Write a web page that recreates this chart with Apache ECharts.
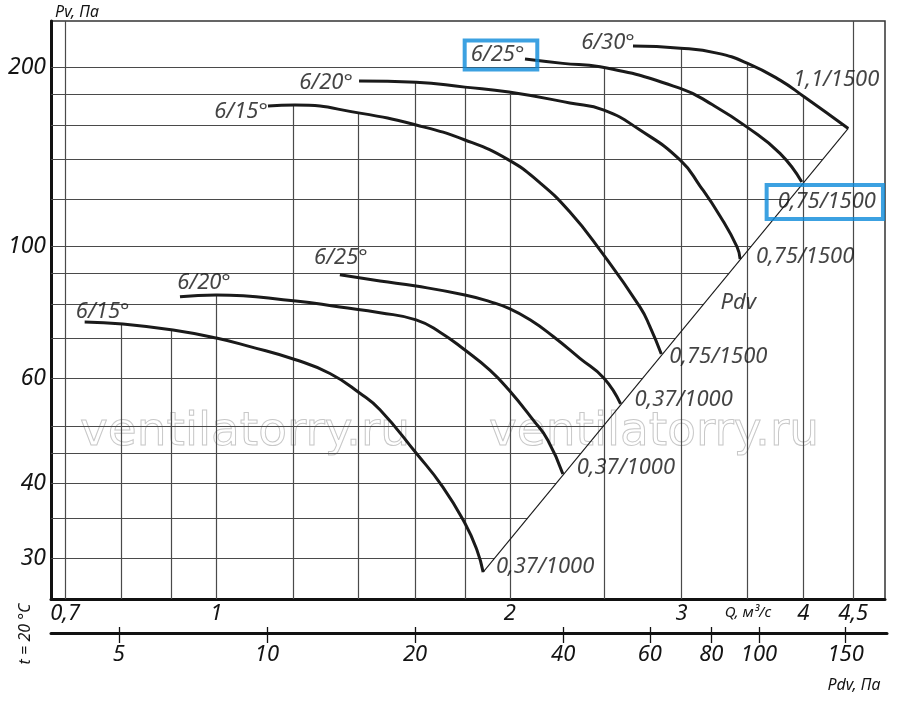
<!DOCTYPE html>
<html>
<head>
<meta charset="utf-8">
<title>Pv-Q</title>
<script src="https://cdn.jsdelivr.net/npm/echarts@6/dist/echarts.min.js"></script>
<style>
html, body { margin: 0; padding: 0; background: #fff; }
#main { width: 900px; height: 703px; }
</style>
</head>
<body>
<div id="main"></div>
<script>
// curves: [Q, м³/с ; Pv, Па]
var c1000_15 = [[0.733, 74.7], [0.802, 74.1], [0.903, 72.4], [1.0, 70.2], [1.083, 67.9], [1.204, 64.6], [1.308, 61.2], [1.404, 56.7], [1.472, 53.2], [1.603, 45.0], [1.707, 39.5], [1.799, 34.3], [1.851, 30.9], [1.878, 28.4]];
var c1000_20 = [[0.918, 82.3], [1.0, 82.9], [1.207, 81.0], [1.339, 79.1], [1.472, 77.4], [1.603, 75.3], [1.696, 71.8], [1.799, 67.0], [1.908, 62.0], [1.996, 57.4], [2.114, 51.1], [2.188, 47.3], [2.267, 41.5]];
var c1000_25 = [[1.339, 89.6], [1.472, 87.5], [1.603, 85.8], [1.799, 82.9], [1.908, 80.8], [1.996, 78.7], [2.098, 75.3], [2.216, 70.6], [2.360, 64.9], [2.498, 60.1], [2.598, 54.4]];
var c1500_15 = [[1.130, 172.0], [1.204, 172.7], [1.404, 167.4], [1.603, 159.9], [1.799, 150.9], [1.996, 139.6], [2.148, 127.8], [2.305, 114.2], [2.475, 98.6], [2.720, 79.1], [2.785, 73.3], [2.860, 66.0]];
var c1500_20 = [[1.401, 189.5], [1.603, 188.7], [1.799, 185.1], [1.996, 181.6], [2.305, 174.1], [2.498, 169.4], [2.720, 156.8], [2.991, 139.6], [3.134, 126.3], [3.285, 112.5], [3.420, 99.8], [3.445, 95.2]];
var c1500_25 = [[2.073, 206.3], [2.267, 202.9], [2.475, 200.2], [2.991, 184.2], [3.231, 172.7], [3.502, 158.6], [3.785, 143.3], [3.985, 128.3]];
var c1500_30 = [[2.675, 216.9], [2.991, 215.2], [3.262, 211.1], [3.502, 203.1], [3.785, 190.2], [4.007, 178.3], [4.447, 157.8]];
var pdvLine = [[1.878, 28.4], [4.447, 157.8]];

var startLabels = ['6/15°', '6/20°', '6/25°', '6/15°', '6/20°', '6/25°', '6/30°'];
var endLabels = ['0,37/1000', '0,37/1000', '0,37/1000', '0,75/1500', '0,75/1500', '0,75/1500', '1,1/1500'];

// axes
var qGrid = [0.7, 0.8, 0.9, 1, 1.2, 1.4, 1.6, 1.8, 2, 2.5, 3, 3.5, 4, 4.5];
var qTicks = [0.7, 1, 2, 3, 4, 4.5];
var pvGrid = [30, 35, 40, 45, 50, 60, 70, 80, 90, 100, 120, 140, 160, 180, 200];
var pvTicks = [30, 40, 60, 100, 200];
var pdvTicks = [5, 10, 20, 40, 60, 80, 100, 150];

var qMin = 0.677, qMax = 4.85, pvMin = 25.6, pvMax = 239;
var pdvMin = 3.64, pdvMax = 182;

var curves = [c1000_15, c1000_20, c1000_25, c1500_15, c1500_20, c1500_25, c1500_30];

// log-log interpolation along a polyline, column i -> column j
function logInterp(pts, i, j, v) {
  for (var k = 0; k < pts.length - 1; k++) {
    var a = pts[k], b = pts[k + 1];
    if (a[i] !== b[i] && (v - a[i]) * (v - b[i]) <= 0) {
      var t = Math.log(v / a[i]) / Math.log(b[i] / a[i]);
      return a[j] * Math.pow(b[j] / a[j], t);
    }
  }
  return null;
}

// grid lines stop at the top curve and at the Pdv line, as on the drawing
var gridLines = [];
qGrid.forEach(function (q) {
  var hits = curves.map(function (c) { return logInterp(c, 0, 1, q); })
    .filter(function (v) { return v !== null; });
  var top = hits.length ? Math.max.apply(null, hits) : pvMax;
  gridLines.push({ coords: [[q, pvMin], [q, top]] });
});
pvGrid.forEach(function (pv) {
  var end = logInterp(pdvLine, 1, 0, pv);
  if (end === null) end = logInterp(c1500_30, 1, 0, pv);
  if (end === null) end = qMax;
  gridLines.push({ coords: [[qMin, pv], [end, pv]] });
});

var txt = {
  color: '#141414',
  fontSize: 22,
  fontStyle: 'italic',
  fontFamily: '"Noto Sans", sans-serif',
  lineHeight: 22
};
var blue = '#0b8ad9';

var startOffsets = [[18, -10], [24, -14], [1, -17], [-27, 6], [-33, 2], [-24, -4], [-25, -3]];
var endOffsets = [[62, -5], [63, -6], [63, -4], [57, 3], [65, -2], [23, 20], [-12, -49]];

var labelData = [];
curves.forEach(function (c, i) {
  var s = { value: c[0], label: Object.assign({ formatter: startLabels[i], offset: startOffsets[i] }, txt) };
  var e = { value: c[c.length - 1], label: Object.assign({ formatter: endLabels[i], offset: endOffsets[i] }, txt) };
  if (i === 5) {
    Object.assign(s.label, { borderColor: blue, borderWidth: 4, padding: [3, 13, 4, 6] });
    Object.assign(e.label, { borderColor: blue, borderWidth: 4, padding: [8, 7, 4, 11] });
  }
  labelData.push(s, e);
});
labelData.push({ value: [3.43, 80.4], label: Object.assign({ formatter: 'Pdv' }, txt) });

var curveSeries = curves.map(function (c, i) {
  return {
    name: startLabels[i] + ' ' + endLabels[i],
    type: 'line',
    data: c,
    smooth: 0.5,
    symbol: 'none',
    lineStyle: { color: '#1a1a1a', width: 3 },
    silent: true,
    z: 3
  };
});

var chart = echarts.init(document.getElementById('main'));

function comma(v) {
  return String(+v.toFixed(2)).replace('.', ',');
}

var wmStyle = { text: 'ventilatorry.ru', font: '47px "DejaVu Sans"', fill: 'none', stroke: '#c8c8c8', lineWidth: 1, align: 'center', verticalAlign: 'middle' };

var option = {
  backgroundColor: '#ffffff',
  animation: false,
  grid: [
    { left: 51, right: 15, top: 21, bottom: 104, show: true, borderColor: '#333', borderWidth: 1.5 },
    { left: 51, right: 13, top: 632, height: 1 }
  ],
  xAxis: [
    {
      gridIndex: 0, type: 'log', min: qMin, max: qMax,
      axisLine: { show: true, onZero: false, lineStyle: { color: '#111', width: 3 } },
      axisTick: { show: false },
      splitLine: { show: false },
      axisLabel: Object.assign({ customValues: qTicks, margin: 4, formatter: comma }, txt)
    },
    {
      gridIndex: 1, type: 'log', min: pdvMin, max: pdvMax, position: 'bottom',
      axisLine: { show: true, onZero: false, lineStyle: { color: '#111', width: 3 } },
      axisTick: { show: true, customValues: pdvTicks, length: 10, lineStyle: { color: '#111', width: 1.3 } },
      splitLine: { show: false },
      axisLabel: Object.assign({ customValues: pdvTicks, margin: 11, formatter: comma }, txt)
    },
    {
      gridIndex: 1, type: 'log', min: pdvMin, max: pdvMax, position: 'top',
      axisLine: { show: false, onZero: false },
      axisTick: { show: true, customValues: pdvTicks, length: 5, lineStyle: { color: '#111', width: 1.3 } },
      splitLine: { show: false },
      axisLabel: { show: false }
    }
  ],
  yAxis: [
    {
      gridIndex: 0, type: 'log', min: pvMin, max: pvMax,
      axisLine: { show: true, onZero: false, lineStyle: { color: '#111', width: 3 } },
      axisTick: { show: false },
      splitLine: { show: false },
      axisLabel: Object.assign({ customValues: pvTicks, margin: 5 }, txt, { fontSize: 23 })
    },
    { gridIndex: 1, type: 'value', show: false }
  ],
  graphic: [
    { type: 'text', x: 245, y: 433, z: 1, silent: true, style: wmStyle },
    { type: 'text', x: 654, y: 433, z: 1, silent: true, style: wmStyle },
    { type: 'text', x: 77, y: 12,
      style: { text: 'Pv, Па', font: 'italic 16px "Noto Sans"', fill: '#141414', align: 'center', verticalAlign: 'middle' } },
    { type: 'text', x: 748, y: 613,
      style: { text: 'Q, м³/с', font: 'italic 15px "Noto Sans"', fill: '#141414', align: 'center', verticalAlign: 'middle' } },
    { type: 'text', x: 854, y: 685,
      style: { text: 'Pdv, Па', font: 'italic 16px "Noto Sans"', fill: '#141414', align: 'center', verticalAlign: 'middle' } },
    { type: 'text', x: 25, y: 634, rotation: Math.PI / 2,
      style: { text: 't = 20 °C', font: 'italic 16px "Noto Sans"', fill: '#141414', align: 'center', verticalAlign: 'middle' } }
  ],
  series: [
    {
      name: 'grid',
      type: 'lines',
      coordinateSystem: 'cartesian2d',
      xAxisIndex: 0, yAxisIndex: 0,
      data: gridLines,
      lineStyle: { color: '#4a4a4a', width: 1.2, opacity: 1 },
      silent: true,
      z: 1
    }
  ].concat(curveSeries).concat([
    {
      name: 'Pdv',
      type: 'line',
      data: pdvLine,
      symbol: 'none',
      lineStyle: { color: '#1a1a1a', width: 1.1 },
      silent: true,
      z: 3
    },
    {
      name: 'labels',
      type: 'scatter',
      data: labelData,
      symbolSize: 1,
      itemStyle: { color: 'rgba(0,0,0,0)' },
      label: { show: true, position: 'inside' },
      silent: true,
      z: 4
    }
  ])
};
chart.setOption(option);
</script>
</body>
</html>
